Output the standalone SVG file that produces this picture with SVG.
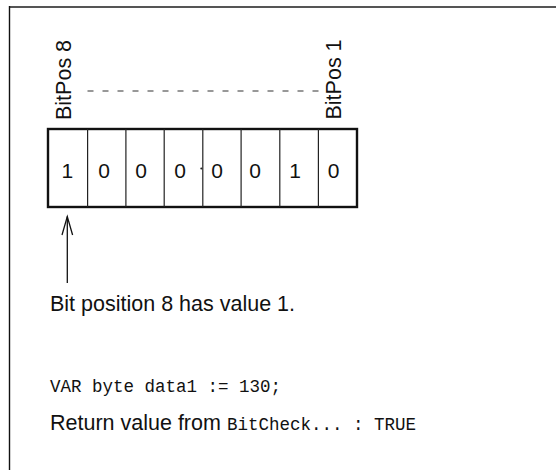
<svg xmlns="http://www.w3.org/2000/svg" width="556" height="470" viewBox="0 0 556 470">
<style>
.sans{font-family:"Liberation Sans",Arial,sans-serif;font-size:21.5px;fill:#111}
.mono{font-family:"Liberation Mono","Courier New",monospace;font-size:17.5px;fill:#111}
.digit{font-family:"Liberation Sans",Arial,sans-serif;font-size:21px;fill:#111;text-anchor:middle}
.div{stroke:#222;stroke-width:1.2}
</style>
<rect width="556" height="470" fill="#fff"/>
<g id="frame">
<line x1="9.5" y1="7" x2="556" y2="7" stroke="#555" stroke-width="2"/>
<line x1="9.5" y1="6" x2="9.5" y2="470" stroke="#111" stroke-width="1.4"/>
</g>
<g id="byte">
<rect x="48" y="129" width="309" height="78" fill="none" stroke="#111" stroke-width="2.4"/>
<line class="div" x1="87.6" y1="129" x2="87.6" y2="207"/>
<line class="div" x1="125.9" y1="129" x2="125.9" y2="207"/>
<line class="div" x1="164.2" y1="129" x2="164.2" y2="207"/>
<line class="div" x1="202.8" y1="129" x2="202.8" y2="207"/>
<line class="div" x1="241.1" y1="129" x2="241.1" y2="207"/>
<line class="div" x1="279.8" y1="129" x2="279.8" y2="207"/>
<line class="div" x1="318.4" y1="129" x2="318.4" y2="207"/>
<circle cx="201.3" cy="168.5" r="1" fill="#222"/>
<text class="digit" x="67.3" y="178">1</text>
<text class="digit" x="104" y="178">0</text>
<text class="digit" x="141" y="178">0</text>
<text class="digit" x="180" y="178">0</text>
<text class="digit" x="217" y="178">0</text>
<text class="digit" x="255" y="178">0</text>
<text class="digit" x="295.2" y="178">1</text>
<text class="digit" x="333.5" y="178">0</text>
</g>
<g id="bitpos8">
<text class="sans" transform="translate(70.5,120) rotate(-90)">BitPos 8</text>
</g>
<g id="bitpos1">
<text class="sans" transform="translate(341,119.5) rotate(-90)">BitPos 1</text>
</g>
<g id="connectors">
<line x1="87.5" y1="91" x2="320" y2="91" stroke="#333" stroke-width="1.2" stroke-dasharray="6 9"/>
<line x1="67.3" y1="216.5" x2="67.3" y2="283" stroke="#111" stroke-width="1.3"/>
<polyline points="62,235 67.3,216.5 72.6,235" fill="none" stroke="#111" stroke-width="1.3"/>
</g>
<g id="caption">
<text class="sans" x="50" y="310.5">Bit position 8 has value 1.</text>
</g>
<g id="code">
<text class="mono" x="50" y="391.5">VAR byte data1 := 130;</text>
<text class="sans" x="50" y="430">Return value from <tspan class="mono" x="227">BitCheck... : TRUE</tspan></text>
</g>
</svg>
